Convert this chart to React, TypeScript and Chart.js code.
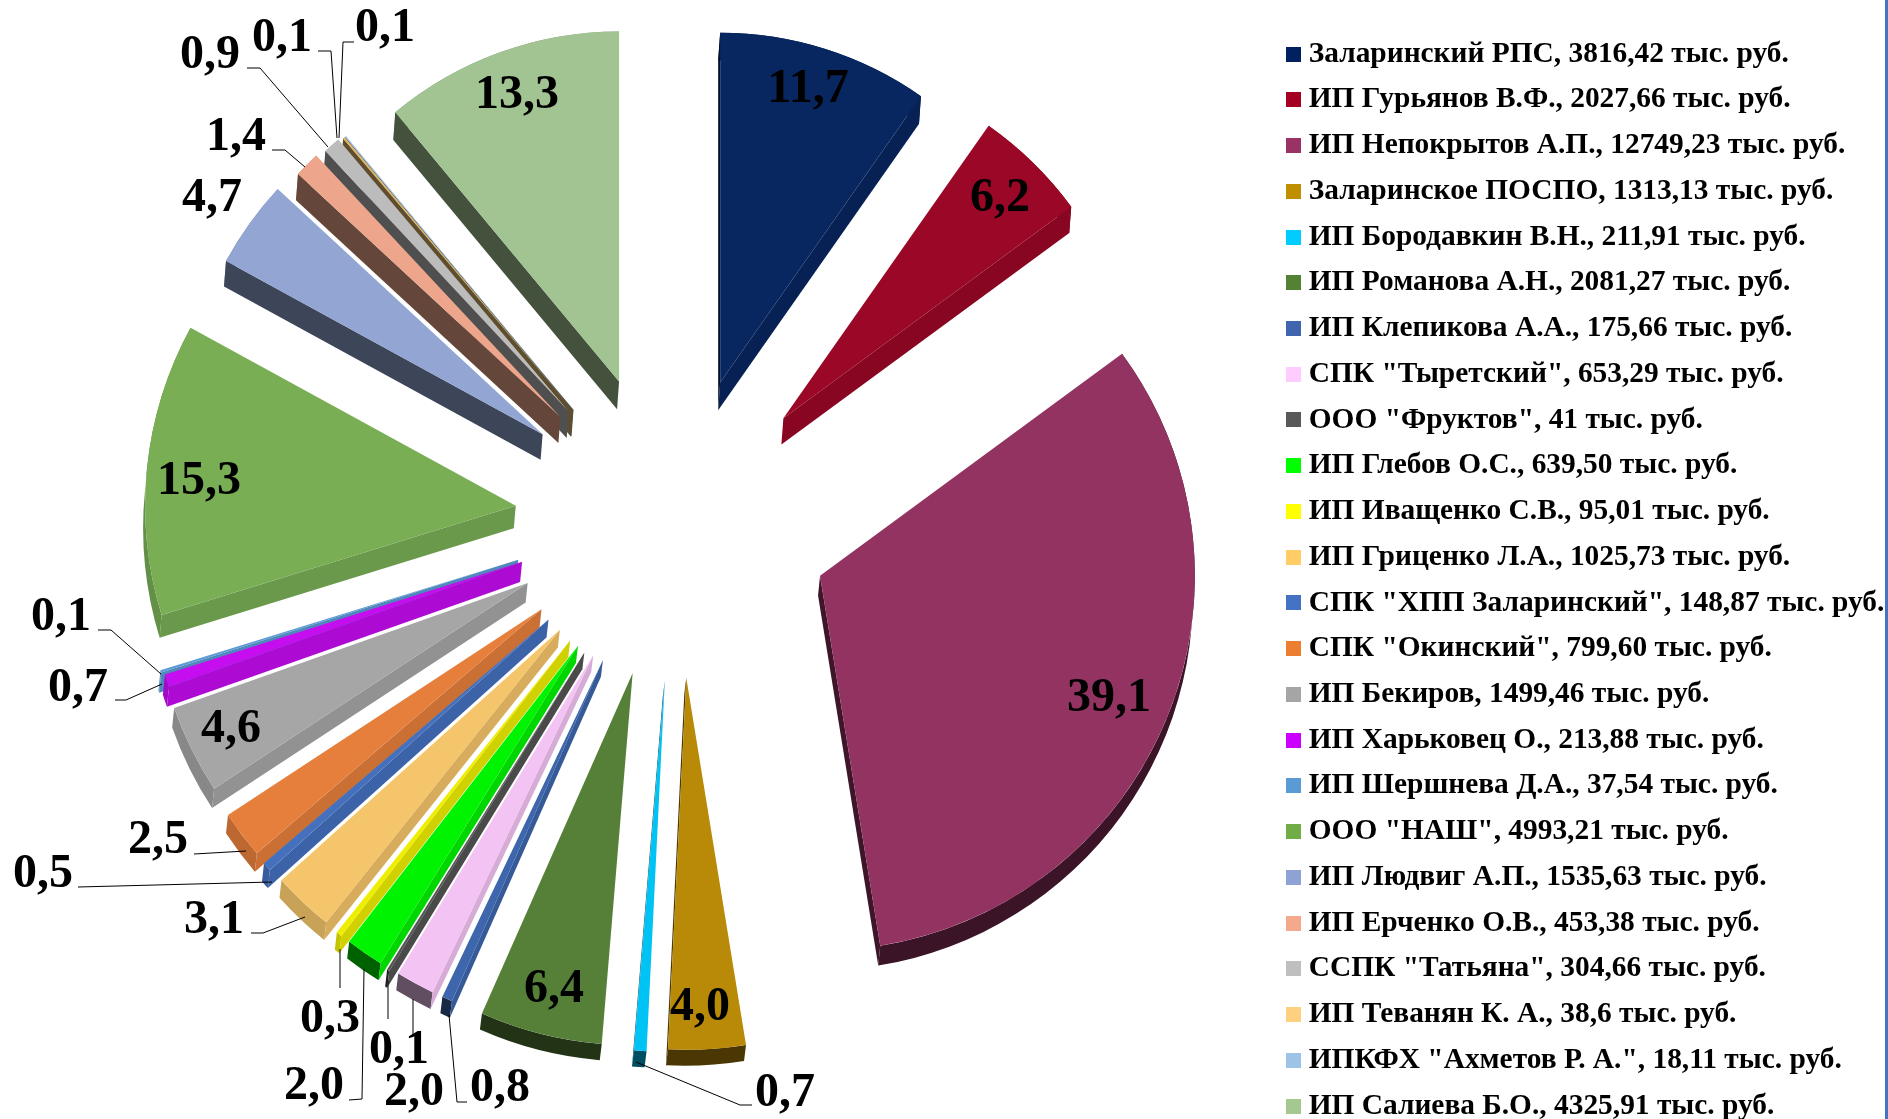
import React, { useEffect, useRef } from "react";
import { Chart, registerables } from "chart.js";

Chart.register(...registerables);

// ---- data ----
const producers = [
  "Заларинский РПС", "ИП Гурьянов В.Ф.", "ИП Непокрытов А.П.", "Заларинское ПОСПО",
  "ИП Бородавкин В.Н.", "ИП Романова А.Н.", "ИП Клепикова А.А.", 'СПК "Тыретский"',
  'ООО "Фруктов"', "ИП Глебов О.С.", "ИП Иващенко С.В.", "ИП Гриценко Л.А.",
  'СПК "ХПП Заларинский"', 'СПК "Окинский"', "ИП Бекиров", "ИП Харьковец О.",
  "ИП Шершнева Д.А.", 'ООО "НАШ"', "ИП Людвиг А.П.", "ИП Ерченко О.В.",
  'ССПК "Татьяна"', "ИП Теванян К. А.", 'ИПКФХ "Ахметов Р. А."', "ИП Салиева Б.О.",
];
const amountText = [
  "3816,42", "2027,66", "12749,23", "1313,13", "211,91", "2081,27", "175,66", "653,29",
  "41", "639,50", "95,01", "1025,73", "148,87", "799,60", "1499,46", "213,88",
  "37,54", "4993,21", "1535,63", "453,38", "304,66", "38,6", "18,11", "4325,91",
];
const amounts = [
  3816.42, 2027.66, 12749.23, 1313.13, 211.91, 2081.27, 175.66, 653.29,
  41, 639.5, 95.01, 1025.73, 148.87, 799.6, 1499.46, 213.88,
  37.54, 4993.21, 1535.63, 453.38, 304.66, 38.6, 18.11, 4325.91,
];
const percentLabels = [
  "11,7", "6,2", "39,1", "4,0", "0,7", "6,4", "0,8", "2,0", "0,1", "2,0", "0,3", "3,1",
  "0,5", "2,5", "4,6", "0,7", "0,1", "15,3", "4,7", "1,4", "0,9", "0,1", "0,1", "13,3",
];

// ---- styles and layout ----
const legendColors = [
  "#002060", "#A50021", "#993366", "#BF8F00", "#00CCFF", "#548235", "#3E65AE", "#FFCCFF",
  "#595959", "#00FF00", "#FFFF00", "#FFCC66", "#4472C4", "#ED7D31", "#A5A5A5", "#CC00FF",
  "#5B9BD5", "#70AD47", "#8FA2D4", "#F4A98C", "#BFBFBF", "#FFD07F", "#9DC3E6", "#A5C890",
];
const sliceColors = [
  "#08265F", "#9B0726", "#933361", "#B88A07", "#00C3F5", "#568038", "#3D66AD", "#F3C3F3",
  "#545454", "#00F300", "#EEEE00", "#F4C56A", "#4470BE", "#E67F3C", "#A6A6A6", "#C50DF0",
  "#5B9BD5", "#79AE55", "#92A5D3", "#EDA68B", "#BCBCBC", "#E2B96C", "#9DC3E6", "#A2C392",
];
const explode = [
  140, 145, 161, 166, 168, 163, 163, 163, 165, 163, 163, 162,
  163, 162, 160, 157, 160, 153, 152, 149, 148, 146, 146, 144,
];
const nudgeX = [7, 11, 0, 6, 5, 2, 0, 0, 0, 0, 0, 0, 0, 0, 0, 0, 0, -3, -5, -5, -4, -4, -4, -3];
const nudgeY = [4, 10, 3, 0, 0, 3, 0, 0, 0, 0, 0, 0, 0, 0, 0, 0, 0, 9, 11, 10, 10, 10, 10, 5];
const labelSpots = [
  [808, 90], [1000, 199], [1109, 699], [700, 1008], [785, 1094], [554, 990],
  [500, 1089], [414, 1093], [399, 1051], [314, 1087], [330, 1020], [214, 921],
  [43, 875], [158, 841], [231, 730], [78, 689], [61, 618], [199, 482],
  [212, 199], [236, 138], [210, 56], [282, 39], [385, 29], [517, 96],
];
const leaders = [
  [[98, 630], [111, 630], [161, 674]],
  [[115, 700], [126, 700], [162, 684]],
  [[194, 854], [246, 851]],
  [[78, 887], [272, 882]],
  [[251, 933], [263, 933], [305, 917]],
  [[340, 949], [340, 988]],
  [[364, 969], [362, 1099], [349, 1100]],
  [[388, 981], [388, 1019]],
  [[413, 999], [413, 1035]],
  [[449, 1015], [457, 1102], [467, 1102]],
  [[636, 1062], [740, 1105], [752, 1105]],
  [[247, 68], [260, 68], [328, 147]],
  [[318, 51], [331, 51], [337, 138]],
  [[354, 42], [343, 42], [339, 138]],
  [[272, 150], [285, 150], [305, 167]],
];
const PIE_CENTER = { x: 671, y: 512 };
const LEGEND_X = 1293;
const LEGEND_TOP = 23;
const LEGEND_PADDING = 16.34;
const SERIF = '"Liberation Serif", serif';

const shade = (hex: string, f: number) => {
  const n = parseInt(hex.slice(1), 16);
  const c = [(n >> 16) & 255, (n >> 8) & 255, n & 255].map((v) => Math.round(v * f));
  return `rgb(${c[0]},${c[1]},${c[2]})`;
};

const legendSwatch = (color: string) => {
  const c = document.createElement("canvas");
  c.width = 15;
  c.height = 15;
  const g = c.getContext("2d")!;
  g.fillStyle = color;
  g.fillRect(0, 0, 15, 15);
  return c;
};

const layoutPlugin = {
  id: "placePie",
  afterLayout(chart: any) {
    const a = chart.chartArea;
    a.left = PIE_CENTER.x - 500;
    a.right = PIE_CENTER.x + 500;
    a.top = PIE_CENTER.y - 500;
    a.bottom = PIE_CENTER.y + 500;
    a.width = 1000;
    a.height = 1000;
    const l = chart.legend;
    const h = l.bottom - l.top;
    const w = l.right - l.left;
    l.top = LEGEND_TOP;
    l.bottom = l.top + h;
    l.left = LEGEND_X - LEGEND_PADDING;
    l.right = l.left + w;
  },
  afterDatasetsUpdate(chart: any) {
    chart.getDatasetMeta(0).data.forEach((arc: any, i: number) => {
      const mid = (arc.startAngle + arc.endAngle) / 2;
      const t = mid + Math.PI / 2;
      arc.outerRadius = 360 - 12 * Math.cos(t) + 12 * Math.sin(t) ** 2;
      arc.x += Math.cos(mid) * explode[i] + nudgeX[i];
      arc.y += Math.sin(mid) * explode[i] + nudgeY[i];
    });
  },
};

const depthPlugin = {
  id: "pieDepth",
  beforeDatasetsDraw(chart: any) {
    const ctx = chart.ctx;
    const arcs = chart.getDatasetMeta(0).data.map((arc: any, i: number) => ({ arc, i }));
    arcs.sort(
      (p: any, q: any) =>
        Math.sin((p.arc.startAngle + p.arc.endAngle) / 2) - Math.sin((q.arc.startAngle + q.arc.endAngle) / 2),
    );
    arcs.forEach(({ arc, i }: any) => {
      const { x: tx, y: ty, startAngle: a1, endAngle: a2, outerRadius: r } = arc;
      const mid = (a1 + a2) / 2;
      const t = mid + Math.PI / 2;
      const ey = 22 + 6 * Math.cos(t);
      const ex = -2;
      const col = sliceColors[i];
      const deg = (t * 180) / Math.PI;
      const wall = deg < 90 ? 0.87 : deg > 215 ? 0.82 : 0.4;
      ctx.save();
      ctx.fillStyle = shade(col, wall);
      ctx.beginPath();
      ctx.arc(tx, ty, r, a1, a2);
      ctx.arc(tx + ex, ty + ey, r, a2, a1, true);
      ctx.closePath();
      ctx.fill();
      [a2, a1].forEach((a, side) => {
        const nx = side === 0 ? -Math.sin(a) : Math.sin(a);
        const ny = side === 0 ? Math.cos(a) : -Math.cos(a);
        if (nx * ex + ny * ey <= 0) return;
        const px = tx + Math.cos(a) * r;
        const py = ty + Math.sin(a) * r;
        ctx.fillStyle = shade(col, nx > 0 ? 0.88 : 0.42);
        ctx.beginPath();
        ctx.moveTo(tx, ty);
        ctx.lineTo(px, py);
        ctx.lineTo(px + ex, py + ey);
        ctx.lineTo(tx + ex, ty + ey);
        ctx.closePath();
        ctx.fill();
      });
      ctx.restore();
    });
  },
};

const labelPlugin = {
  id: "sliceLabels",
  afterDraw(chart: any) {
    const ctx = chart.ctx;
    ctx.save();
    ctx.strokeStyle = "#000";
    ctx.lineWidth = 1;
    leaders.forEach((pts) => {
      ctx.beginPath();
      pts.forEach(([px, py], j) => (j ? ctx.lineTo(px, py) : ctx.moveTo(px, py)));
      ctx.stroke();
    });
    ctx.fillStyle = "#000";
    ctx.font = `bold 48px ${SERIF}`;
    ctx.textAlign = "center";
    ctx.textBaseline = "middle";
    percentLabels.forEach((text, i) => {
      ctx.fillText(text, labelSpots[i][0], labelSpots[i][1]);
    });
    ctx.restore();
  },
};

export default function App() {
  const ref = useRef<HTMLCanvasElement>(null);
  useEffect(() => {
    document.body.style.margin = "0";
    document.body.style.overflow = "hidden";
    const chart = new Chart(ref.current!, {
      type: "pie",
      data: {
        labels: producers.map((p, i) => `${p}, ${amountText[i]} тыс. руб.`),
        datasets: [
          {
            data: amounts,
            backgroundColor: sliceColors,
            borderWidth: 0,
            clip: false,
          } as any,
        ],
      },
      options: {
        responsive: false,
        animation: false,
        layout: { padding: 0 },
        plugins: {
          tooltip: { enabled: false },
          legend: {
            position: "right",
            align: "start",
            labels: {
              usePointStyle: true,
              pointStyleWidth: 1,
              boxHeight: 15,
              padding: LEGEND_PADDING,
              color: "#000",
              font: { family: SERIF, size: 29.4, weight: "bold", lineHeight: 1.2 },
              generateLabels: (c: any) =>
                c.data.labels.map((text: string, i: number) => ({
                  text,
                  fillStyle: legendColors[i],
                  strokeStyle: legendColors[i],
                  lineWidth: 0,
                  pointStyle: legendSwatch(legendColors[i]),
                  index: i,
                })),
            },
          },
        },
      },
      plugins: [layoutPlugin, depthPlugin, labelPlugin],
    } as any);
    return () => chart.destroy();
  }, []);
  return (
    <div style={{ position: "relative", width: 1888, height: 1119, background: "#fff", overflow: "hidden" }}>
      <canvas ref={ref} width={1888} height={1119} style={{ display: "block" }} />
      <div style={{ position: "absolute", right: 0, top: 0, width: 3, height: 1119, background: "#4472C4" }} />
    </div>
  );
}
